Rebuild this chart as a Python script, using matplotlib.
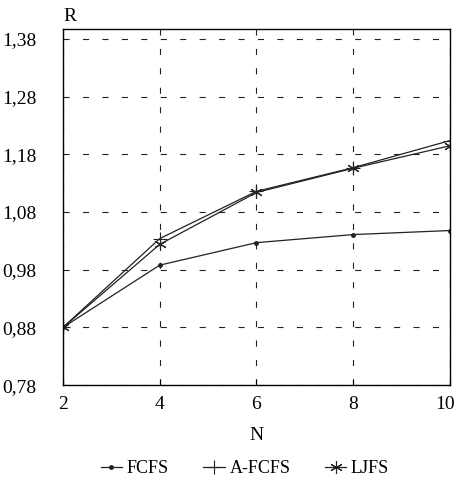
import matplotlib.pyplot as plt
import matplotlib.transforms as mtransforms
import numpy as np

plt.rcParams['font.family'] = ['Liberation Serif', 'DejaVu Serif']

n = [2, 4, 6, 8, 10]
fcfs = [0.880, 0.988, 1.027, 1.041, 1.048]
afcfs = [0.880, 1.034, 1.116, 1.157, 1.204]
ljfs = [0.880, 1.024, 1.114, 1.156, 1.195]
yticks = [0.78, 0.88, 0.98, 1.08, 1.18, 1.28, 1.38]

fig = plt.figure(figsize=(4.56, 4.79), dpi=100)
ax = fig.add_axes([0.138, 0.196, 0.849, 0.743])

ax.plot(n, fcfs, color="#222222", lw=0.9, marker='.', ms=5, label="FCFS")
ax.plot(n, afcfs, color="#222222", lw=0.9, marker='+', ms=10, mew=0.8, label="A-FCFS")
ax.plot(n, ljfs, color="#222222", lw=0.9, marker=(6, 2, 0), ms=9, mew=0.8, label="LJFS")

ax.set_xlim(2, 10)
ax.set_ylim(0.78, 1.397)
ax.set_xticks(n)
ax.set_yticks(yticks)
ax.set_yticklabels([("%.2f" % v).replace('.', ',') for v in yticks])
ax.tick_params(direction='in', labelsize=14, length=4, color='black')
ax.tick_params(axis='x', pad=8)
ax.tick_params(axis='y', length=0, pad=19)
ax.grid(True, color='#222222', linestyle=(0, (5.5, 12)), linewidth=0.8)
for s in ax.spines.values():
    s.set_linewidth(1.0)

# last x label sits a little left so it stays inside the figure
lab = ax.get_xticklabels()[-1]
lab.set_transform(lab.get_transform() + mtransforms.ScaledTranslation(-0.05, 0, fig.dpi_scale_trans))

ax.set_xlabel("N", fontsize=14, labelpad=10)
ax.text(0.0, 1.012, "R", transform=ax.transAxes, fontsize=14, ha='left', va='bottom')

ax.legend(loc='upper center', bbox_to_anchor=(0.47, -0.165), ncol=3, frameon=False,
          fontsize=13, handlelength=1.2, handletextpad=0.25, columnspacing=1.9)

fig.savefig("out.png", dpi=100)
